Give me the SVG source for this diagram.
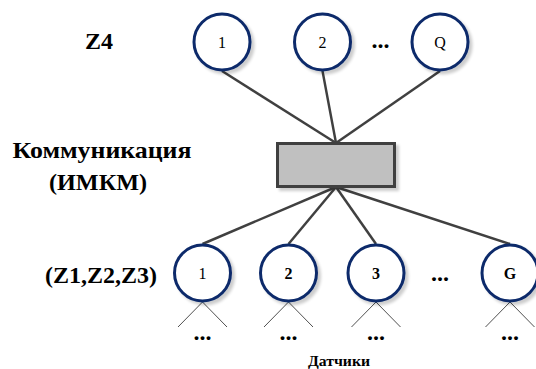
<svg xmlns="http://www.w3.org/2000/svg" width="536" height="369" viewBox="0 0 536 369">
<style>
.lbl{font-family:"Liberation Serif","DejaVu Serif",serif;font-weight:bold;fill:#000}
.num{font-family:"Liberation Serif","DejaVu Serif",serif;font-size:16px;fill:#000;text-anchor:middle}
.node{fill:#fff;stroke:#0b2a6b;stroke-width:3}
.conn{stroke:#404040;stroke-width:2.5;fill:none}
.thin{stroke:#505050;stroke-width:1;fill:none}
.dots{font-family:"Liberation Serif","DejaVu Serif",serif;font-weight:bold;font-size:24px;text-anchor:middle}
</style>
<defs>
<filter id="sh" x="-30%" y="-30%" width="160%" height="160%">
<feGaussianBlur in="SourceAlpha" stdDeviation="1.5"/>
<feOffset dx="3" dy="3" result="b"/>
<feComponentTransfer><feFuncA type="linear" slope="0.2"/></feComponentTransfer>
<feMerge><feMergeNode/><feMergeNode in="SourceGraphic"/></feMerge>
</filter>
</defs>
<rect width="536" height="369" fill="#fff"/>
<g id="labels">
<text class="lbl" x="99" y="49" font-size="24" text-anchor="middle">Z4</text>
<text class="lbl" x="12.5" y="158" font-size="23" textLength="179" lengthAdjust="spacingAndGlyphs">Коммуникация</text>
<text class="lbl" x="49" y="190" font-size="23" textLength="98" lengthAdjust="spacingAndGlyphs">(ИМКМ)</text>
<text class="lbl" x="101" y="283" font-size="24" text-anchor="middle">(Z1,Z2,Z3)</text>
<text class="lbl" x="308" y="366" font-size="15" textLength="62" lengthAdjust="spacingAndGlyphs">Датчики</text>
<text class="dots" x="380.5" y="48">...</text>
<text class="dots" x="440" y="281">...</text>
</g>
<g id="connectors">
<line class="conn" x1="222" y1="71" x2="336" y2="143"/>
<line class="conn" x1="322.5" y1="71" x2="336" y2="143"/>
<line class="conn" x1="440" y1="71" x2="336" y2="143"/>
<line class="conn" x1="336" y1="187" x2="202.5" y2="244"/>
<line class="conn" x1="336" y1="187" x2="288.5" y2="244"/>
<line class="conn" x1="336" y1="187" x2="376" y2="244"/>
<line class="conn" x1="336" y1="187" x2="510" y2="244"/>
<path class="thin" d="M178 327 L202.5 302 L227 327"/>
<path class="thin" d="M264 327 L288.5 302 L313 327"/>
<path class="thin" d="M351.5 327 L376 302 L400.5 327"/>
<path class="thin" d="M485.5 327 L510 302 L534.5 327"/>
</g>
<g id="hub"><rect x="277.5" y="143.5" width="117" height="43" fill="#c0c0c0" stroke="#404040" stroke-width="3" filter="url(#sh)"/></g>
<g id="top1"><circle class="node" cx="222" cy="42" r="28" filter="url(#sh)"/><text class="num" x="222" y="47.5">1</text></g>
<g id="top2"><circle class="node" cx="322.5" cy="42" r="28" filter="url(#sh)"/><text class="num" x="322.5" y="47.5">2</text></g>
<g id="topQ"><circle class="node" cx="440" cy="42" r="28" filter="url(#sh)"/><text class="num" x="440" y="47.5">Q</text></g>
<g id="s1"><circle class="node" cx="202.5" cy="273" r="28" filter="url(#sh)"/><text class="num" x="202.5" y="278.5">1</text><text class="dots" x="202.5" y="340">...</text></g>
<g id="s2"><circle class="node" cx="288.5" cy="273" r="28" filter="url(#sh)"/><text class="num" x="288.5" y="278.5" font-weight="bold">2</text><text class="dots" x="288.5" y="340">...</text></g>
<g id="s3"><circle class="node" cx="376" cy="273" r="28" filter="url(#sh)"/><text class="num" x="376" y="278.5" font-weight="bold">3</text><text class="dots" x="376" y="340">...</text></g>
<g id="sG"><circle class="node" cx="510" cy="273" r="28" filter="url(#sh)"/><text class="num" x="510" y="278.5" font-weight="bold">G</text><text class="dots" x="510" y="340">...</text></g>
</svg>
